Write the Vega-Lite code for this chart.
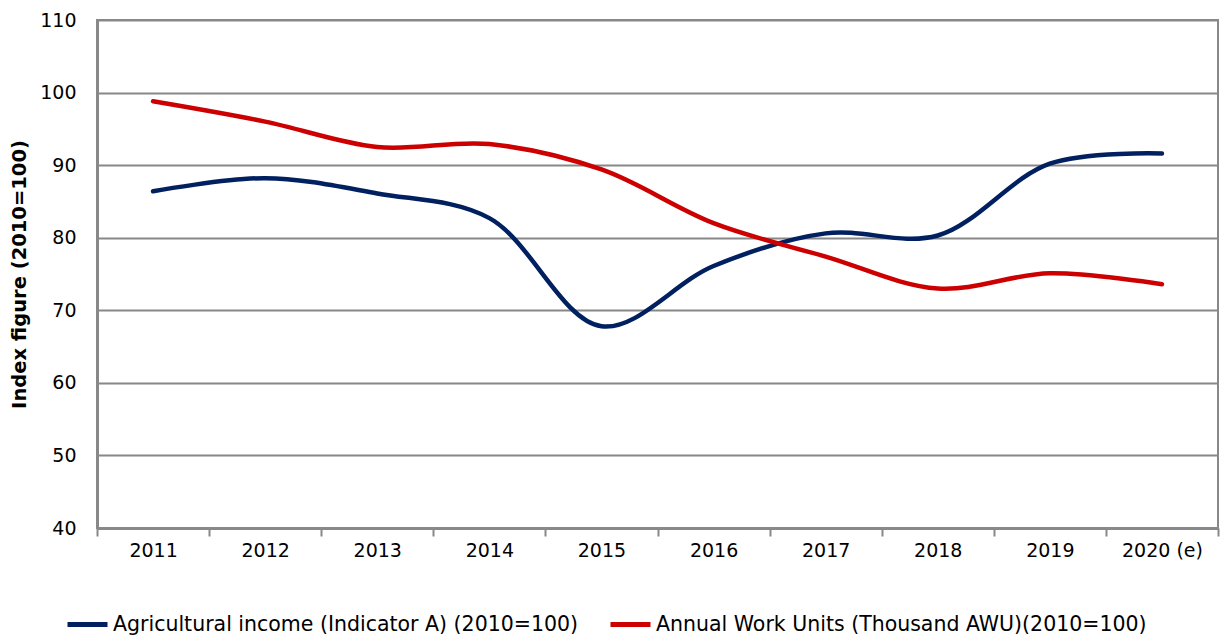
{
  "$schema": "https://vega.github.io/schema/vega-lite/v6.json",
  "autosize": "none",
  "width": 1121,
  "height": 508,
  "padding": {"left": 97, "top": 20, "right": 5, "bottom": 110},
  "background": "white",
  "config": {
    "font": "DejaVu Sans",
    "view": {"stroke": "#888888", "strokeWidth": 2}
  },
  "data": {
    "values": [
      {"year": "2011", "series": "Agricultural income (Indicator A) (2010=100)", "value": 86.4},
      {"year": "2012", "series": "Agricultural income (Indicator A) (2010=100)", "value": 88.2},
      {"year": "2013", "series": "Agricultural income (Indicator A) (2010=100)", "value": 86.1},
      {"year": "2014", "series": "Agricultural income (Indicator A) (2010=100)", "value": 82.7},
      {"year": "2015", "series": "Agricultural income (Indicator A) (2010=100)", "value": 67.8},
      {"year": "2016", "series": "Agricultural income (Indicator A) (2010=100)", "value": 76.1},
      {"year": "2017", "series": "Agricultural income (Indicator A) (2010=100)", "value": 80.6},
      {"year": "2018", "series": "Agricultural income (Indicator A) (2010=100)", "value": 80.3},
      {"year": "2019", "series": "Agricultural income (Indicator A) (2010=100)", "value": 90.2},
      {"year": "2020 (e)", "series": "Agricultural income (Indicator A) (2010=100)", "value": 91.6},
      {"year": "2011", "series": "Annual Work Units (Thousand AWU)(2010=100)", "value": 98.8},
      {"year": "2012", "series": "Annual Work Units (Thousand AWU)(2010=100)", "value": 96.0},
      {"year": "2013", "series": "Annual Work Units (Thousand AWU)(2010=100)", "value": 92.5},
      {"year": "2014", "series": "Annual Work Units (Thousand AWU)(2010=100)", "value": 92.9},
      {"year": "2015", "series": "Annual Work Units (Thousand AWU)(2010=100)", "value": 89.4},
      {"year": "2016", "series": "Annual Work Units (Thousand AWU)(2010=100)", "value": 82.0},
      {"year": "2017", "series": "Annual Work Units (Thousand AWU)(2010=100)", "value": 77.4},
      {"year": "2018", "series": "Annual Work Units (Thousand AWU)(2010=100)", "value": 73.0},
      {"year": "2019", "series": "Annual Work Units (Thousand AWU)(2010=100)", "value": 75.1},
      {"year": "2020 (e)", "series": "Annual Work Units (Thousand AWU)(2010=100)", "value": 73.6}
    ]
  },
  "mark": {"type": "line", "interpolate": "catmull-rom", "strokeWidth": 4.5, "strokeCap": "round"},
  "encoding": {
    "x": {
      "field": "year",
      "type": "ordinal",
      "bandPosition": 0.5,
      "scale": {"type": "band", "paddingInner": 0, "paddingOuter": 0},
      "axis": {
        "title": null,
        "labelAngle": 0,
        "labelFont": "DejaVu Sans",
        "labelFontSize": 19,
        "labelColor": "#000000",
        "labelPadding": 5,
        "tickBand": "extent",
        "ticks": true,
        "tickSize": 8,
        "tickColor": "#888888",
        "tickWidth": 2,
        "domainColor": "#888888",
        "domainWidth": 3,
        "grid": false
      }
    },
    "y": {
      "field": "value",
      "type": "quantitative",
      "scale": {"domain": [40, 110], "nice": false, "zero": false},
      "axis": {
        "title": "Index figure (2010=100)",
        "titleFont": "DejaVu Sans",
        "titleFontSize": 19.5,
        "titleFontWeight": "bold",
        "titleColor": "#000000",
        "titlePadding": 10,
        "values": [40, 50, 60, 70, 80, 90, 100, 110],
        "labelFont": "DejaVu Sans",
        "labelFontSize": 19,
        "labelColor": "#000000",
        "labelPadding": 21,
        "ticks": false,
        "domainColor": "#888888",
        "domainWidth": 3,
        "grid": true,
        "gridColor": "#888888",
        "gridWidth": 2
      }
    },
    "color": {
      "field": "series",
      "type": "nominal",
      "sort": ["Agricultural income (Indicator A) (2010=100)", "Annual Work Units (Thousand AWU)(2010=100)"],
      "scale": {
        "domain": ["Agricultural income (Indicator A) (2010=100)", "Annual Work Units (Thousand AWU)(2010=100)"],
        "range": ["#002060", "#CC0000"]
      },
      "legend": {
        "title": null,
        "orient": "none",
        "direction": "horizontal",
        "legendX": -32,
        "legendY": 582,
        "symbolType": "stroke",
        "symbolSize": 1600,
        "symbolStrokeWidth": 5,
        "labelFont": "DejaVu Sans",
        "labelFontSize": 20.5,
        "labelColor": "#000000",
        "labelOffset": 3,
        "columnPadding": 21,
        "labelLimit": 600
      }
    }
  }
}
